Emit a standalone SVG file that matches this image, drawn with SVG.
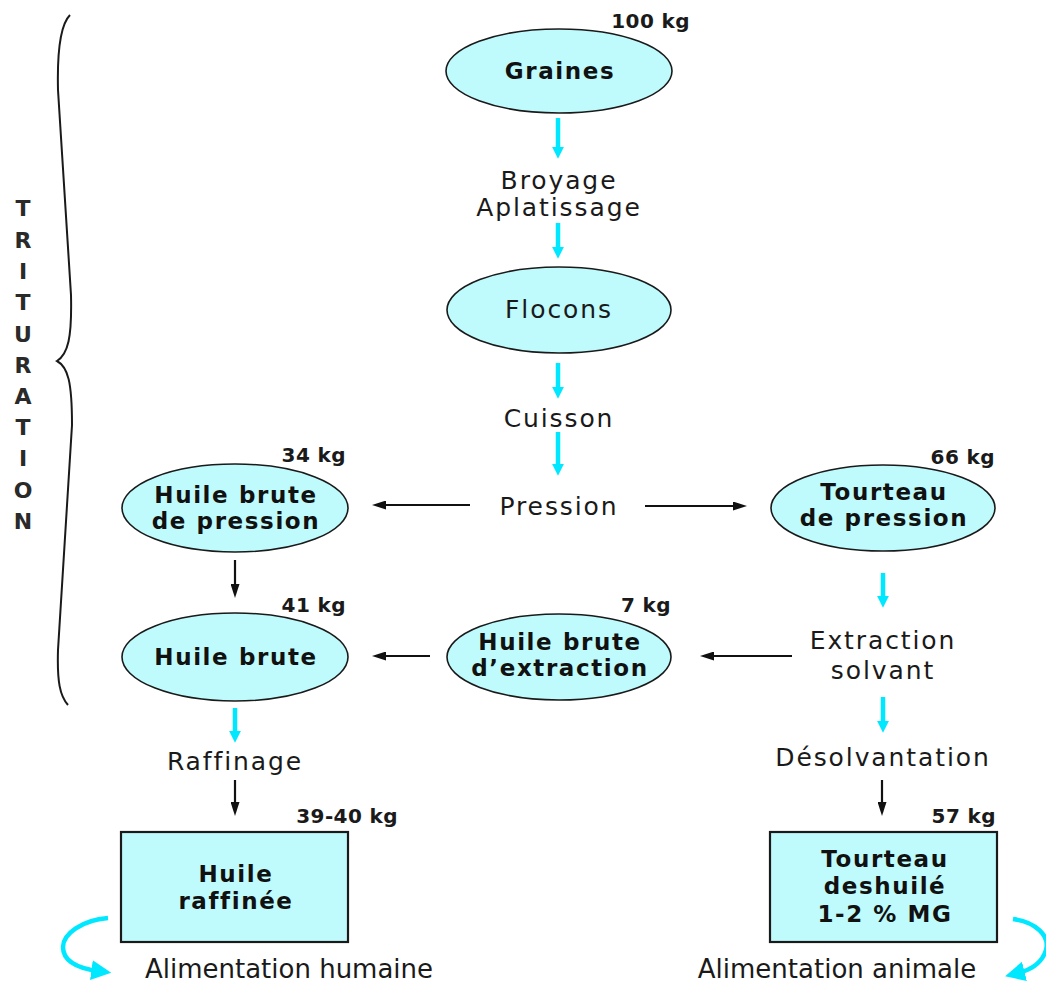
<svg xmlns="http://www.w3.org/2000/svg" width="1046" height="985" viewBox="0 0 1046 985">
<style>
.bg{fill:#ffffff}
.el{fill:#bffbfc;stroke:#1a1a1a;stroke-width:1.6}
.bx{fill:#bffbfc;stroke:#1a1a1a;stroke-width:2.2}
.n{font-family:"DejaVu Sans",sans-serif;font-weight:bold;font-size:23px;letter-spacing:1.6px;text-anchor:middle;fill:#111}
.l{font-family:"DejaVu Sans",sans-serif;font-size:25px;letter-spacing:1.9px;text-anchor:middle;fill:#1a1a1a}
.k{font-family:"DejaVu Sans",sans-serif;font-weight:bold;font-size:20px;letter-spacing:0.4px;text-anchor:end;fill:#1a1a1a}
.a{font-family:"DejaVu Sans",sans-serif;font-size:26px;text-anchor:middle;fill:#1a1a1a}
.t{font-family:"DejaVu Sans",sans-serif;font-weight:bold;font-size:22px;text-anchor:middle;fill:#2a2a2a}
.cy{stroke:#00e8ff;stroke-width:4.5;fill:none}
.bk{stroke:#111;stroke-width:2.2;fill:none}
.br{stroke:#1a1a1a;stroke-width:2;fill:none}
</style>
<defs>
<marker id="ac" viewBox="0 0 10 10" markerWidth="12" markerHeight="12" refX="3.5" refY="5" orient="auto" markerUnits="userSpaceOnUse">
<path d="M0,0 L10,5 L0,10 z" fill="#00e8ff"/>
</marker>
<marker id="ab" viewBox="0 0 14 9" markerWidth="14" markerHeight="9" refX="4" refY="4.5" orient="auto" markerUnits="userSpaceOnUse">
<path d="M0,0 L14,4.5 L0,9 z" fill="#111"/>
</marker>
<marker id="acc" viewBox="0 0 12 12" markerWidth="20" markerHeight="20" refX="4" refY="6" orient="auto" markerUnits="userSpaceOnUse">
<path d="M0,0 L12,6 L0,12 z" fill="#00e8ff"/>
</marker>
</defs>
<rect class="bg" x="0" y="0" width="1046" height="985"/>

<g id="trituration">
<path class="br" d="M70,15 C61,24 57,48 58,90 L71,295 C72,338 68,354 57,361 C68,367 72,382 72,425 L58,650 C57,682 60,696 68,705"/>
<text class="t" x="23" y="216">T</text>
<text class="t" x="23" y="248">R</text>
<text class="t" x="23" y="279">I</text>
<text class="t" x="23" y="310">T</text>
<text class="t" x="23" y="342">U</text>
<text class="t" x="23" y="373">R</text>
<text class="t" x="23" y="404">A</text>
<text class="t" x="23" y="435">T</text>
<text class="t" x="23" y="466">I</text>
<text class="t" x="23" y="498">O</text>
<text class="t" x="23" y="529">N</text>
</g>

<g id="connectors">
<line class="cy" x1="558" y1="118" x2="558" y2="151" marker-end="url(#ac)"/>
<line class="cy" x1="558" y1="223" x2="558" y2="251" marker-end="url(#ac)"/>
<line class="cy" x1="558" y1="363" x2="558" y2="391" marker-end="url(#ac)"/>
<line class="cy" x1="558" y1="432" x2="558" y2="468" marker-end="url(#ac)"/>
<line class="cy" x1="883" y1="573" x2="883" y2="600" marker-end="url(#ac)"/>
<line class="cy" x1="883" y1="697" x2="883" y2="725" marker-end="url(#ac)"/>
<line class="cy" x1="235" y1="708" x2="235" y2="735" marker-end="url(#ac)"/>
<line class="bk" x1="470" y1="505" x2="382" y2="505" marker-end="url(#ab)"/>
<line class="bk" x1="645" y1="506" x2="737" y2="506" marker-end="url(#ab)"/>
<line class="bk" x1="235" y1="560" x2="235" y2="588" marker-end="url(#ab)"/>
<line class="bk" x1="430" y1="656" x2="382" y2="656" marker-end="url(#ab)"/>
<line class="bk" x1="792" y1="656" x2="710" y2="656" marker-end="url(#ab)"/>
<line class="bk" x1="235" y1="780" x2="235" y2="806" marker-end="url(#ab)"/>
<line class="bk" x1="882" y1="780" x2="882" y2="806" marker-end="url(#ab)"/>
<path class="cy" d="M108,918 C82,920 63,934 63,947 C63,960 76,968 98,971" marker-end="url(#acc)"/>
<path class="cy" d="M1013,919 C1036,922 1050,936 1046,950 C1042,963 1030,970 1018,973" marker-end="url(#acc)"/>
</g>

<g id="graines">
<ellipse class="el" cx="559" cy="71" rx="113" ry="42"/>
<text class="n" x="560" y="79">Graines</text>
<text class="k" x="690" y="28">100 kg</text>
</g>

<g id="broyage">
<text class="l" x="559" y="189">Broyage</text>
<text class="l" x="559" y="216">Aplatissage</text>
</g>

<g id="flocons">
<ellipse class="el" cx="559" cy="310" rx="112" ry="43"/>
<text class="l" x="559" y="318">Flocons</text>
</g>

<g id="cuisson">
<text class="l" x="559" y="427">Cuisson</text>
</g>

<g id="pression">
<text class="l" x="559" y="515">Pression</text>
</g>

<g id="huile-brute-pression">
<ellipse class="el" cx="235" cy="508" rx="113" ry="44"/>
<text class="n" x="236" y="503">Huile brute</text>
<text class="n" x="236" y="529">de pression</text>
<text class="k" x="346" y="462">34 kg</text>
</g>

<g id="tourteau-pression">
<ellipse class="el" cx="883" cy="508" rx="112" ry="43"/>
<text class="n" x="884" y="500">Tourteau</text>
<text class="n" x="884" y="526">de pression</text>
<text class="k" x="995" y="464">66 kg</text>
</g>

<g id="huile-brute">
<ellipse class="el" cx="235" cy="657" rx="113" ry="44"/>
<text class="n" x="236" y="665">Huile brute</text>
<text class="k" x="346" y="612">41 kg</text>
</g>

<g id="huile-brute-extraction">
<ellipse class="el" cx="559" cy="657" rx="112" ry="43"/>
<text class="n" x="560" y="650">Huile brute</text>
<text class="n" x="560" y="676">d’extraction</text>
<text class="k" x="671" y="612">7 kg</text>
</g>

<g id="extraction-solvant">
<text class="l" x="883" y="649">Extraction</text>
<text class="l" x="883" y="679">solvant</text>
</g>

<g id="raffinage">
<text class="l" x="235" y="770">Raffinage</text>
</g>

<g id="desolvantation">
<text class="l" x="883" y="766">Désolvantation</text>
</g>

<g id="huile-raffinee">
<rect class="bx" x="121" y="832" width="227" height="110"/>
<text class="n" x="236" y="882">Huile</text>
<text class="n" x="236" y="909">raffinée</text>
<text class="k" x="398" y="823">39-40 kg</text>
</g>

<g id="tourteau-deshuile">
<rect class="bx" x="770" y="832" width="227" height="110"/>
<text class="n" x="885" y="867">Tourteau</text>
<text class="n" x="885" y="894">deshuilé</text>
<text class="n" x="885" y="922">1-2 % MG</text>
<text class="k" x="996" y="823">57 kg</text>
</g>

<g id="alimentation-humaine">
<text class="a" x="289" y="978">Alimentation humaine</text>
</g>

<g id="alimentation-animale">
<text class="a" x="837" y="978">Alimentation animale</text>
</g>
</svg>
